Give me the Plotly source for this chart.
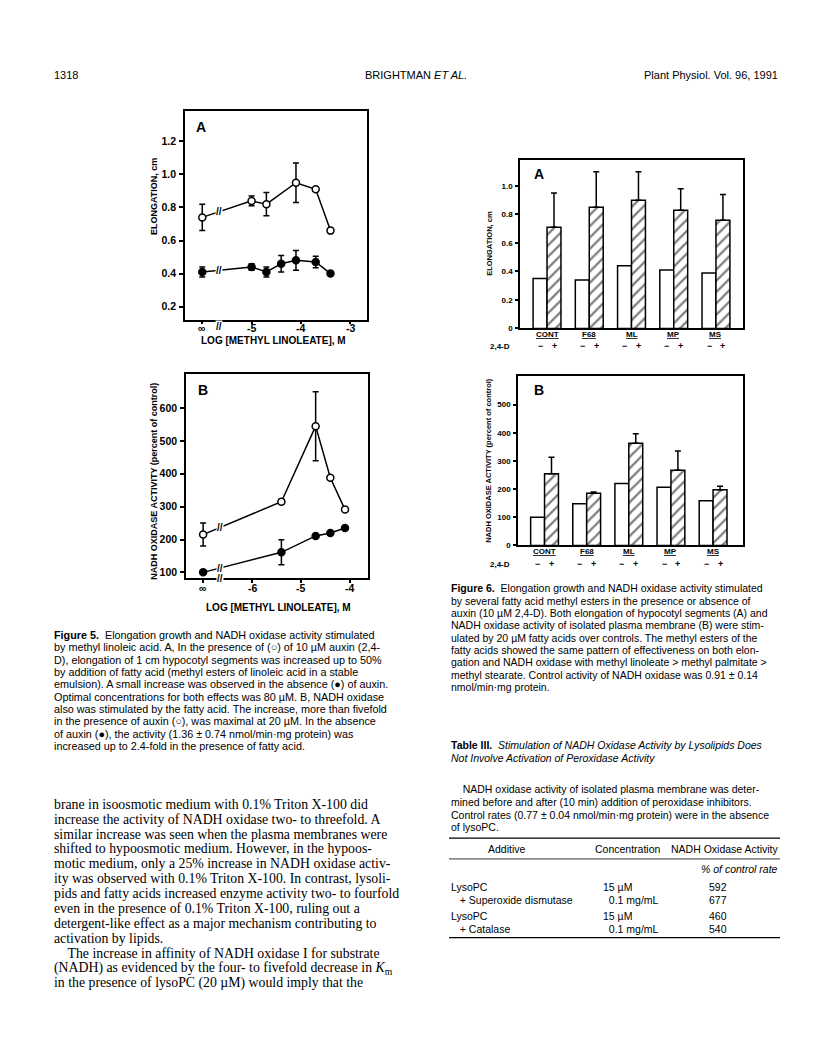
import numpy as np
import plotly.graph_objects as go

W, H = 816, 1052


def px(x):
    return x / W


def py(y):
    return 1 - y / H


# Figure 5A: elongation (cm) vs log[methyl linoleate]; the control ("∞") sits at -6 on the broken axis
a_open_x = [-6, -5, -4.7, -4.1, -3.7, -3.4]
a_open_y = [0.74, 0.84, 0.82, 0.95, 0.91, 0.66]
a_open_err = [0.08, 0.03, 0.07, 0.12, 0.01, 0]
a_fill_x = [-6, -5, -4.7, -4.4, -4.1, -3.7, -3.4]
a_fill_y = [0.41, 0.44, 0.41, 0.46, 0.48, 0.47, 0.40]
a_fill_err = [0.03, 0.02, 0.03, 0.05, 0.06, 0.035, 0]
a_ticks = [-6, -5, -4, -3]
a_ticktext = ["∞", "-5", "-4", "-3"]
a_break = -5.67

# Figure 5B: NADH oxidase activity (% of control); control ("∞") at -7
b_open_x = [-7, -5.4, -4.7, -4.4, -4.1]
b_open_y = [215, 315, 545, 388, 291]
b_open_err = [35, 7, 105, 0, 0]
b_fill_x = [-7, -5.4, -4.7, -4.4, -4.1]
b_fill_y = [100, 161, 211, 220, 235]
b_fill_err = [0, 38, 0, 0, 0]
b_ticks = [-7, -6, -5, -4]
b_ticktext = ["∞", "-6", "-5", "-4"]
b_break = -6.66

# Figure 6: fatty acid methyl esters, without (-) and with (+) 2,4-D
esters = ["CONT", "F68", "ML", "MP", "MS"]
elong_minus = [0.35, 0.34, 0.44, 0.41, 0.39]
elong_plus = [0.71, 0.85, 0.90, 0.83, 0.76]
elong_plus_err = [0.24, 0.25, 0.20, 0.15, 0.18]
nadh_minus = [100, 148, 220, 207, 159]
nadh_plus = [255, 185, 363, 267, 198]
nadh_plus_err = [58, 5, 34, 68, 12]

SANS = "Liberation Sans"
SERIF = "Liberation Serif"
BLK = "black"

fig = go.Figure()


def line_trace(x, y, err, open_marker, xa, ya):
    return go.Scatter(
        x=x, y=y, xaxis=xa, yaxis=ya, mode="lines+markers",
        line=dict(color=BLK, width=1.5),
        marker=dict(symbol="circle", size=7,
                    color="white" if open_marker else BLK,
                    line=dict(color=BLK, width=1.5)),
        error_y=dict(type="data", array=err, visible=True,
                     color=BLK, thickness=1.5, width=3),
        showlegend=False, hoverinfo="skip")


fig.add_trace(line_trace(a_open_x, a_open_y, a_open_err, True, "x", "y"))
fig.add_trace(line_trace(a_fill_x, a_fill_y, a_fill_err, False, "x", "y"))
fig.add_trace(line_trace(b_open_x, b_open_y, b_open_err, True, "x2", "y2"))
fig.add_trace(line_trace(b_fill_x, b_fill_y, b_fill_err, False, "x2", "y2"))

bw = 0.33
idx = np.arange(len(esters))
for xa, ya, minus, plus, perr in [("x3", "y3", elong_minus, elong_plus, elong_plus_err),
                                  ("x4", "y4", nadh_minus, nadh_plus, nadh_plus_err)]:
    fig.add_trace(go.Bar(x=idx - bw / 2, y=minus, width=bw, xaxis=xa, yaxis=ya,
                         marker=dict(color="white", line=dict(color=BLK, width=1.5)),
                         showlegend=False, hoverinfo="skip"))
    fig.add_trace(go.Bar(x=idx + bw / 2, y=plus, width=bw, xaxis=xa, yaxis=ya,
                         marker=dict(color="white", line=dict(color=BLK, width=1.5),
                                     pattern=dict(shape="/", fgcolor=BLK, bgcolor="white",
                                                  size=8, solidity=0.28)),
                         error_y=dict(type="data", symmetric=False, array=perr,
                                      arrayminus=[0] * len(perr), color=BLK,
                                      thickness=1.5, width=3),
                         showlegend=False, hoverinfo="skip"))

axis_style = dict(showline=True, linecolor=BLK, linewidth=1.5, mirror=True,
                  ticks="outside", ticklen=4, tickwidth=1.5, tickcolor=BLK,
                  showgrid=False, zeroline=False, ticklabelstandoff=1,
                  tickfont=dict(family=SANS, size=10.5, color=BLK, weight="bold"))
small_tick = dict(family=SANS, size=8, color=BLK, weight="bold")

fig.update_layout(
    width=W, height=H, margin=dict(l=0, r=0, t=0, b=0),
    paper_bgcolor="white", plot_bgcolor="white", barmode="overlay",
    xaxis=dict(axis_style, domain=[px(177), px(359)], range=[-6.35, -2.66],
               tickvals=a_ticks, showticklabels=False, anchor="y", ticklen=3),
    yaxis=dict(axis_style, domain=[py(313), py(103)], range=[0.122, 1.387],
               tickvals=[0.2, 0.4, 0.6, 0.8, 1.0, 1.2], tickformat=".1f", anchor="x"),
    xaxis2=dict(axis_style, domain=[px(178), px(360)], range=[-7.35, -3.63],
                tickvals=b_ticks, showticklabels=False, anchor="y2", ticklen=3),
    yaxis2=dict(axis_style, domain=[py(573), py(368)], range=[82, 703],
                tickvals=[100, 200, 300, 400, 500, 600], anchor="x2"),
    xaxis3=dict(axis_style, domain=[px(512), px(735)], range=[-0.64, 4.64],
                showticklabels=False, ticks="", anchor="y3"),
    yaxis3=dict(axis_style, domain=[py(322), py(153)], range=[0, 1.18],
                tickvals=[0, 0.2, 0.4, 0.6, 0.8, 1.0], ticktext=["0", "0.2", "0.4", "0.6", "0.8", "1.0"],
                anchor="x3", tickfont=small_tick, ticklen=3),
    xaxis4=dict(axis_style, domain=[px(510), px(735)], range=[-0.63, 4.71],
                showticklabels=False, ticks="", anchor="y4"),
    yaxis4=dict(axis_style, domain=[py(540), py(370)], range=[0, 601],
                tickvals=[0, 100, 200, 300, 400, 500], anchor="x4", tickfont=small_tick, ticklen=3),
)

ann = []


def text(x, y, s, size=10.5, family=SANS, anchor="left", **kw):
    ann.append(dict(x=px(x), y=py(y), xref="paper", yref="paper", text=s,
                    showarrow=False, xanchor=anchor, yanchor="middle",
                    font=dict(family=family, size=size, color=BLK, **kw)))


def on_axis(xa, xv, ypix, s, size):
    ann.append(dict(x=xv, y=py(ypix), xref=xa, yref="paper", text=s, showarrow=False,
                    xanchor="center", yanchor="middle",
                    font=dict(family=SANS, size=size, color=BLK, weight="bold")))


# x tick labels of fig 5 drawn close under the axis, as in the print
for xa, ticks, labels, ylab in [("x", a_ticks, a_ticktext, 322), ("x2", b_ticks, b_ticktext, 583)]:
    for tv, tl in zip(ticks, labels):
        on_axis(xa, tv, ylab, tl, 10.5)

# category labels and 2,4-D rows under fig 6
for xa, ycat, yrow in [("x3", 328, 340), ("x4", 546, 559)]:
    text(492, yrow, "2,4-D", size=8, anchor="center", weight="bold")
    for i, name in zip(idx, esters):
        on_axis(xa, i, ycat, "<u>%s</u>" % name, 8)
        on_axis(xa, i - bw / 2, yrow, "−", 9)
        on_axis(xa, i + bw / 2, yrow, "+", 9)

# panel letters
text(186, 120, "A", size=14, weight="bold")
text(188, 384, "B", size=14, weight="bold")
text(524, 167, "A", size=14, weight="bold")
text(524, 384, "B", size=14, weight="bold")

# axis titles
for x, y, s, sz in [(146, 190, "ELONGATION, cm", 9),
                    (146, 476, "NADH OXIDASE ACTIVITY (percent of control)", 9),
                    (482, 237, "ELONGATION, cm", 7.5),
                    (481, 455, "NADH OXIDASE ACTIVITY (percent of control)", 7.5)]:
    ann.append(dict(x=px(x), y=py(y), xref="paper", yref="paper", text=s, textangle=-90,
                    showarrow=False, xanchor="center", yanchor="middle",
                    font=dict(family=SANS, size=sz, color=BLK, weight="bold")))
text(265, 334, "LOG [METHYL LINOLEATE], M", size=10, anchor="center", weight="bold")
text(270, 602, "LOG [METHYL LINOLEATE], M", size=10, anchor="center", weight="bold")

# axis breaks on the lines and on the x axes
for xa, ya, brk, xs, ys_list, ybot in [("x", "y", a_break, a_open_x, [a_open_y, a_fill_y], 313),
                                        ("x2", "y2", b_break, b_open_x, [b_open_y, b_fill_y], 573)]:
    for ys in ys_list:
        yv = float(np.interp(brk, xs[:2], ys[:2]))
        ann.append(dict(x=brk, y=yv, xref=xa, yref=ya, text="//", showarrow=False,
                        bgcolor="white", borderpad=0,
                        font=dict(family=SANS, size=10, color=BLK, weight="bold")))
    ann.append(dict(x=brk, y=py(ybot), xref=xa, yref="paper", text="//", showarrow=False,
                    bgcolor="white", borderpad=0,
                    font=dict(family=SANS, size=10, color=BLK, weight="bold")))

# running head
text(44, 67, "1318", size=11)
text(408, 67, "BRIGHTMAN <i>ET AL.</i>", size=11, anchor="center")
text(772, 67, "Plant Physiol. Vol. 96, 1991", size=11, anchor="right")


def block(x, y0, lh, lines, size, family=SANS):
    for i, s in enumerate(lines):
        text(x, y0 + i * lh, s, size=size, family=family)


block(44, 630, 12.4, [
    "<b>Figure 5.</b>  Elongation growth and NADH oxidase activity stimulated",
    "by methyl linoleic acid. A, In the presence of (○) of 10 µM auxin (2,4-",
    "D), elongation of 1 cm hypocotyl segments was increased up to 50%",
    "by addition of fatty acid (methyl esters of linoleic acid in a stable",
    "emulsion). A small increase was observed in the absence (●) of auxin.",
    "Optimal concentrations for both effects was 80 µM. B, NADH oxidase",
    "also was stimulated by the fatty acid. The increase, more than fivefold",
    "in the presence of auxin (○), was maximal at 20 µM. In the absence",
    "of auxin (●), the activity (1.36 ± 0.74 nmol/min·mg protein) was",
    "increased up to 2.4-fold in the presence of fatty acid.",
], 10.8)

block(441, 583, 12.4, [
    "<b>Figure 6.</b>  Elongation growth and NADH oxidase activity stimulated",
    "by several fatty acid methyl esters in the presence or absence of",
    "auxin (10 µM 2,4-D). Both elongation of hypocotyl segments (A) and",
    "NADH oxidase activity of isolated plasma membrane (B) were stim-",
    "ulated by 20 µM fatty acids over controls. The methyl esters of the",
    "fatty acids showed the same pattern of effectiveness on both elon-",
    "gation and NADH oxidase with methyl linoleate > methyl palmitate >",
    "methyl stearate. Control activity of NADH oxidase was 0.91 ± 0.14",
    "nmol/min·mg protein.",
], 10.5)

block(44, 800, 15, [
    "brane in isoosmotic medium with 0.1% Triton X-100 did",
    "increase the activity of NADH oxidase two- to threefold. A",
    "similar increase was seen when the plasma membranes were",
    "shifted to hypoosmotic medium. However, in the hypoos-",
    "motic medium, only a 25% increase in NADH oxidase activ-",
    "ity was observed with 0.1% Triton X-100. In contrast, lysoli-",
    "pids and fatty acids increased enzyme activity two- to fourfold",
    "even in the presence of 0.1% Triton X-100, ruling out a",
    "detergent-like effect as a major mechanism contributing to",
    "activation by lipids.",
    "    The increase in affinity of NADH oxidase I for substrate",
    "(NADH) as evidenced by the four- to fivefold decrease in <i>K</i><sub>m</sub>",
    "in the presence of lysoPC (20 µM) would imply that the",
], 13.8, SERIF)

# Table III
block(441, 741, 13, [
    "<b>Table III.</b>  <i>Stimulation of NADH Oxidase Activity by Lysolipids Does</i>",
    "<i>Not Involve Activation of Peroxidase Activity</i>",
], 10.5)
block(441, 785, 12.8, [
    "    NADH oxidase activity of isolated plasma membrane was deter-",
    "mined before and after (10 min) addition of peroxidase inhibitors.",
    "Control rates (0.77 ± 0.04 nmol/min·mg protein) were in the absence",
    "of lysoPC.",
], 10.5)
text(499, 845, "Additive", size=10.5, anchor="center")
text(620, 845, "Concentration", size=10.5, anchor="center")
text(717, 845, "NADH Oxidase Activity", size=10.5, anchor="center")
text(772, 865, "<i>% of control rate</i>", size=10.5, anchor="right")
rows = [("LysoPC", "15 µM", "592", 883), ("  + Superoxide dismutase", "  0.1 mg/mL", "677", 896),
        ("LysoPC", "15 µM", "460", 912), ("  + Catalase", "  0.1 mg/mL", "540", 925)]
for a, c, v, y in rows:
    text(441, y, a.replace("  ", "&nbsp;&nbsp;&nbsp;"), size=10.5)
    text(593, y, c.replace("  ", "&nbsp;&nbsp;"), size=10.5)
    text(710, y, v, size=10.5, anchor="center")

shapes = [dict(type="line", xref="paper", yref="paper", x0=px(441), x1=px(772),
               y0=py(yy), y1=py(yy), line=dict(color=BLK, width=wd))
          for yy, wd in [(834, 1.3), (855, 0.8), (934, 1.3)]]

fig.update_layout(annotations=ann, shapes=shapes)
fig.write_html("out.html")
